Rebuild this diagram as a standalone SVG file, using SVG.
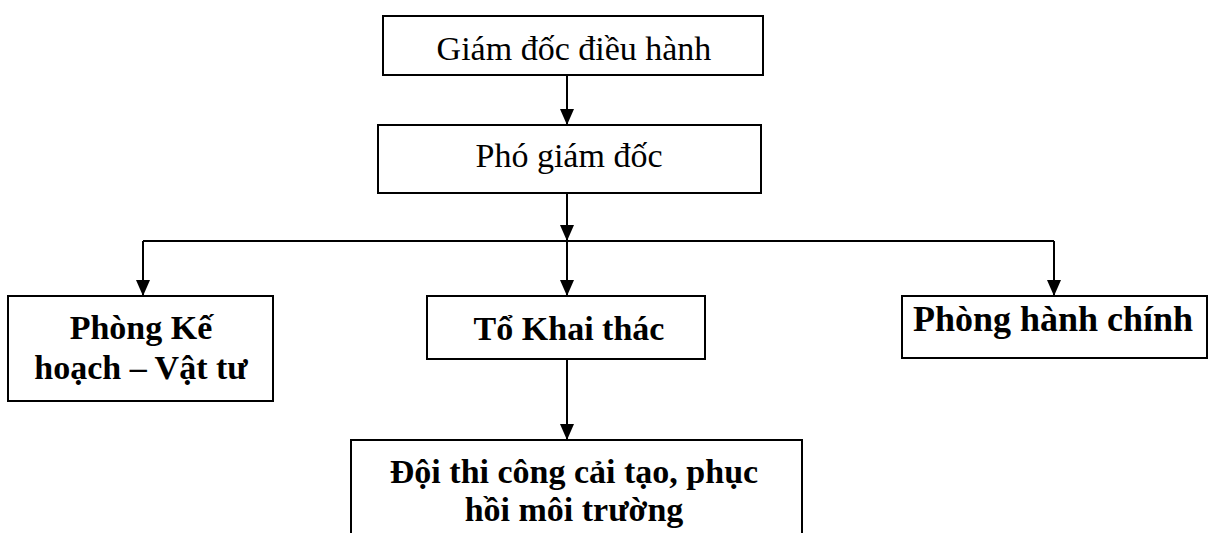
<svg xmlns="http://www.w3.org/2000/svg" width="1209" height="533" viewBox="0 0 1209 533">
  <style>
    .box { fill: #ffffff; stroke: #000000; stroke-width: 2; }
    .reg { font-family: "Liberation Serif", "Times New Roman", serif; font-size: 34px; fill: #000; text-anchor: middle; }
    .bold { font-family: "Liberation Serif", "Times New Roman", serif; font-size: 34px; font-weight: bold; fill: #000; text-anchor: middle; }
    .conn { fill: none; stroke: #000000; stroke-width: 2; }
  </style>
  <defs>
    <marker id="arrow" markerUnits="userSpaceOnUse" markerWidth="16" markerHeight="16" refX="16" refY="7" orient="auto">
      <path d="M0,0 L16,7 L0,14 Z" fill="#000"/>
    </marker>
  </defs>
  <rect x="0" y="0" width="1209" height="533" fill="#ffffff"/>

  <g id="connectors">
    <line class="conn" x1="567" y1="75" x2="567" y2="125" marker-end="url(#arrow)"/>
    <line class="conn" x1="567" y1="193" x2="567" y2="241" marker-end="url(#arrow)"/>
    <line class="conn" x1="143" y1="241" x2="1054" y2="241"/>
    <line class="conn" x1="143" y1="241" x2="143" y2="296" marker-end="url(#arrow)"/>
    <line class="conn" x1="567" y1="241" x2="567" y2="296" marker-end="url(#arrow)"/>
    <line class="conn" x1="1054" y1="241" x2="1054" y2="296" marker-end="url(#arrow)"/>
    <line class="conn" x1="567" y1="359" x2="567" y2="440" marker-end="url(#arrow)"/>
  </g>

  <g id="giam-doc">
    <rect class="box" x="383" y="16" width="380" height="59"/>
    <text class="reg" x="574" y="60">Giám đốc điều hành</text>
  </g>

  <g id="pho-giam-doc">
    <rect class="box" x="378" y="125" width="383" height="68"/>
    <text class="reg" x="569" y="167">Phó giám đốc</text>
  </g>

  <g id="phong-ke-hoach">
    <rect class="box" x="8" y="296" width="265" height="105"/>
    <text class="bold" x="141" y="339">Phòng Kế</text>
    <text class="bold" x="141" y="379">hoạch – Vật tư</text>
  </g>

  <g id="to-khai-thac">
    <rect class="box" x="427" y="296" width="278" height="63"/>
    <text class="bold" x="569" y="340">Tổ Khai thác</text>
  </g>

  <g id="phong-hanh-chinh">
    <rect class="box" x="902" y="296" width="305" height="62"/>
    <text class="bold" x="1053" y="331" style="font-size:36px">Phòng hành chính</text>
  </g>

  <g id="doi-thi-cong">
    <rect class="box" x="351" y="440" width="451" height="110"/>
    <text class="bold" x="574" y="483">Đội thi công cải tạo, phục</text>
    <text class="bold" x="574" y="521">hồi môi trường</text>
  </g>
</svg>
